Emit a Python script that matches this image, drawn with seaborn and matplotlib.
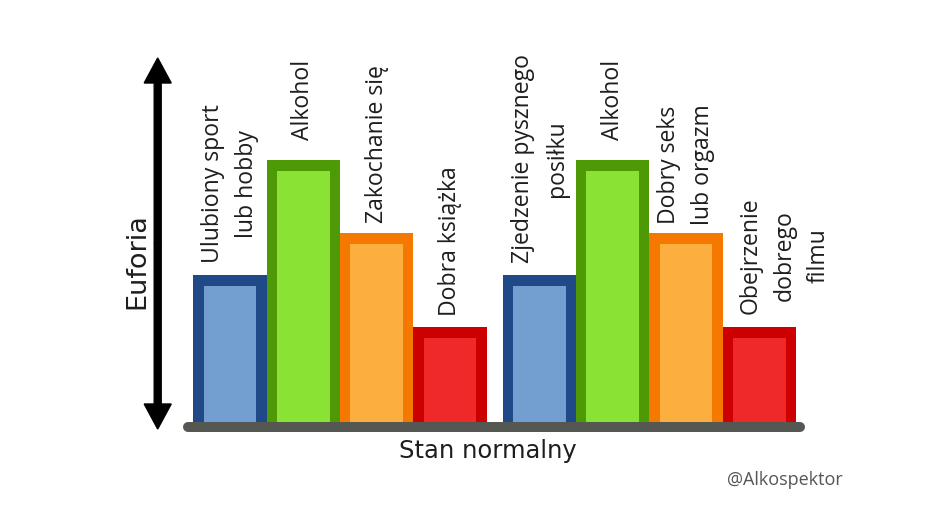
import numpy as np
import pandas as pd
import matplotlib
matplotlib.use("Agg")
import matplotlib.pyplot as plt
import seaborn as sns
from matplotlib.transforms import Affine2D
from matplotlib.lines import Line2D
from matplotlib.patches import FancyArrow

# ---------------- data ----------------
labels = ["Ulubiony sport\nlub hobby", "Alkohol", "Zakochanie się", "Dobra książka",
          "Zjedzenie pysznego\nposiłku", "Alkohol", "Dobry seks\nlub orgazm",
          "Obejrzenie\ndobrego\nfilmu"]
groups = [0, 0, 0, 0, 1, 1, 1, 1]
values = [14.7, 26.2, 18.9, 9.5, 14.7, 26.2, 18.9, 9.5]
color_keys = ["blue", "green", "orange", "red", "blue", "green", "orange", "red"]
y_title = "Euforia"
x_title = "Stan normalny"
credit = "@Alkospektor"

# ---------------- style ----------------
outer_pal = {"blue": "#204a87", "green": "#4e9a06", "orange": "#f57900", "red": "#cc0000"}
inner_pal = {"blue": "#729fcf", "green": "#8ae234", "orange": "#fcaf3e", "red": "#ef2929"}
label_gap_px = [12, 20, 10, 11, 12, 20, 8, 13]
label_shift_px = [0, 0, 0, 0, 1, 0, 0, 25]
group_gap = 0.218      # extra gap between groups, in bar widths
border = 1.07          # top border, data units
inner_width = 0.72

W, H = 940, 509
sns.set_theme(style="white")
plt.rcParams['font.family'] = ['DejaVu Sans']

fig = plt.figure(figsize=(W / 100, H / 100), dpi=100)
px = Affine2D().scale(1 / W, -1 / H).translate(0, 1) + fig.transFigure

ax_left, ax_right, ax_bottom, ax_top = 193.3, 796.0, 422.0, 50.0
ax = fig.add_axes([ax_left / W, (H - ax_bottom) / H,
                   (ax_right - ax_left) / W, (ax_bottom - ax_top) / H])

positions = [i % 4 + g * (4 + group_gap) for i, g in enumerate(groups)]
df = pd.DataFrame({"pos": positions, "value": values, "key": color_keys,
                   "inner": [v - border for v in values]})

sns.barplot(data=df, x="pos", y="value", hue="key", palette=outer_pal,
            native_scale=True, width=1.0, dodge=False, legend=False,
            saturation=1, errorbar=None, linewidth=0, ax=ax)
sns.barplot(data=df, x="pos", y="inner", hue="key", palette=inner_pal,
            native_scale=True, width=inner_width, dodge=False, legend=False,
            saturation=1, errorbar=None, linewidth=0, ax=ax)

ax.set_xlim(-0.5, positions[-1] + 0.5)
ax.set_ylim(0, (ax_bottom - ax_top) / 10)
ax.axis("off")

px_per_unit = (ax_right - ax_left) / (positions[-1] + 1)
for p, v, lab, gap, sh in zip(positions, values, labels, label_gap_px, label_shift_px):
    ax.text(p + sh / px_per_unit, v + gap / 10, lab, rotation=90, ha="center",
            va="bottom", multialignment="center", family="Open Sans",
            fontsize=16.6, linespacing=1.55, color="#1e1e1e")

# baseline
fig.add_artist(Line2D([188, 800], [427, 427], lw=7.2, color="#555753",
                      solid_capstyle="round", transform=px))

# double-headed arrow
mid = (58 + 429) / 2
for tip in (58, 429):
    fig.add_artist(FancyArrow(157.7, mid, 0, tip - mid, width=7, head_width=27,
                              head_length=25, length_includes_head=True,
                              color="black", transform=px))

fig.text(137 / W, 1 - 261 / H, y_title, rotation=90, ha="center", va="center",
         fontsize=19.5, color="#1e1e1e")
fig.text(487.6 / W, 1 - 451 / H, x_title, ha="center", va="center",
         fontsize=17.5, color="#1e1e1e")
fig.text(843 / W, 1 - 480 / H, credit, ha="right", va="center",
         family="Open Sans", fontsize=13, color="#555555")

fig.savefig("out.png", dpi=100, facecolor="white")
